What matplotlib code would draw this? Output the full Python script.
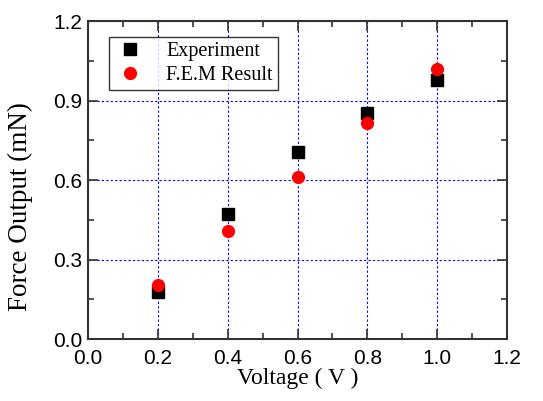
import matplotlib
matplotlib.use("Agg")
import matplotlib.pyplot as plt
from matplotlib.ticker import MultipleLocator

voltage = [0.2, 0.4, 0.6, 0.8, 1.0]
experiment = [0.178, 0.470, 0.707, 0.852, 0.977]
fem_result = [0.204, 0.408, 0.610, 0.816, 1.018]
series_labels = ["Experiment", "F.E.M Result"]
xlabel = "Voltage ( V )"
ylabel = "Force Output (mN)"

fig = plt.figure(figsize=(5.43, 4.01), dpi=100)
ax = fig.add_axes([0.162, 0.1546, 0.772, 0.793])

ax.plot(voltage, experiment, linestyle="none", marker="s", color="black",
        markersize=8, label=series_labels[0], zorder=3)
ax.plot(voltage, fem_result, linestyle="none", marker="o", color="red",
        markersize=8.5, label=series_labels[1], zorder=3)

ax.set_xlim(0, 1.2)
ax.set_ylim(0, 1.2)
ax.xaxis.set_major_locator(MultipleLocator(0.2))
ax.xaxis.set_minor_locator(MultipleLocator(0.1))
ax.yaxis.set_major_locator(MultipleLocator(0.3))
ax.yaxis.set_minor_locator(MultipleLocator(0.15))
ax.xaxis.set_major_formatter(plt.FormatStrFormatter("%.1f"))
ax.yaxis.set_major_formatter(plt.FormatStrFormatter("%.1f"))

ax.grid(True, which="major", color="blue", linestyle=(0, (2, 2)), linewidth=0.8)
ax.tick_params(which="both", direction="in", top=True, right=True,
               labelsize=15, width=1.2, color="#333333")
ax.tick_params(which="major", length=7)
ax.tick_params(which="minor", length=4)
ax.tick_params(axis="x", which="major", pad=7)
ax.tick_params(axis="y", which="major", pad=4)
for lab in ax.get_xticklabels() + ax.get_yticklabels():
    lab.set_fontfamily("Liberation Sans")
for s in ax.spines.values():
    s.set_linewidth(1.5)
    s.set_color("#333333")

ax.set_xlabel(xlabel, fontfamily="Liberation Serif", fontsize=17, labelpad=0)
ax.set_ylabel(ylabel, fontfamily="Liberation Serif", fontsize=19.5)
ax.yaxis.set_label_coords(-0.13, 0.415)

leg = ax.legend(loc="upper left", bbox_to_anchor=(0.05, 0.95),
                prop={"family": "Liberation Serif", "size": 14.5},
                frameon=True, fancybox=False, edgecolor="black",
                handletextpad=1.0, borderpad=0.25, labelspacing=0.25,
                handlelength=1.6, borderaxespad=0)
leg.get_frame().set_linewidth(1.0)

fig.savefig("out.png", dpi=100)
